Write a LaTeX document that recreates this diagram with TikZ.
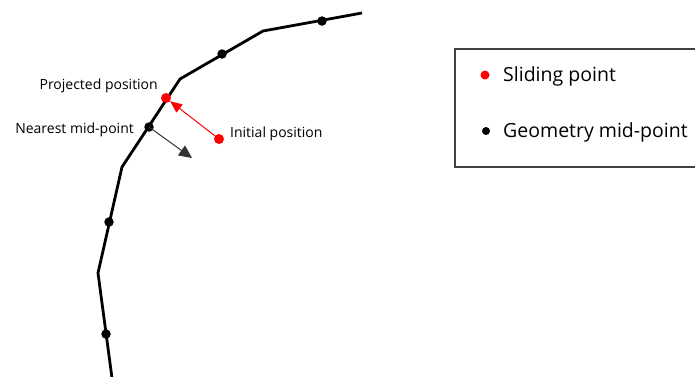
\documentclass[tikz,border=0pt]{standalone}
\usepackage{fontspec}
\setmainfont{Open Sans}
\usetikzlibrary{arrows.meta}
\begin{document}
\begin{tikzpicture}[x=1pt,y=-1pt,
  curve/.style={line width=2.8pt,line join=round},
  middot/.style={circle,fill=black,inner sep=0pt,minimum size=9.5pt},
  reddot/.style={circle,fill=red,inner sep=0pt,minimum size=10pt},
  lbl/.style={font=\fontsize{14}{16}\selectfont,inner sep=0pt},
  leg/.style={font=\fontsize{19.5}{22}\selectfont,inner sep=0pt,anchor=west}]
\useasboundingbox (0,0) rectangle (695,376);
% polyline geometry
\coordinate (v0) at (362,13);
\coordinate (v1) at (263,31);
\coordinate (v2) at (180,79);
\coordinate (v3) at (122,167);
\coordinate (v4) at (98,273);
\coordinate (v5) at (112,378);
\draw[curve] (v0) -- (v1) -- (v2) -- (v3) -- (v4) -- (v5);
% mid-points
\node[middot] (m1) at (322,21) {};
\node[middot] (m2) at (222,54) {};
\node[middot] (m3) at (149,127) {};
\node[middot] (m4) at (109,222) {};
\node[middot] (m5) at (106,334) {};
% sliding point and its projection
\node[reddot] (proj) at (166,98) {};
\node[reddot] (init) at (219,139) {};
\draw[red,line width=1pt,-{Triangle[length=12pt,width=10pt]}] (init) -- (proj);
\coordinate (nrm) at (192,158);
\draw[black!80,line width=1pt,-{Triangle[length=13pt,width=12pt]}] (m3.center) -- (nrm);
% labels
\node[lbl,anchor=east] (lp) at (158,86) {Projected position};
\node[lbl,anchor=east] (ln) at (134,130) {Nearest mid-point};
\node[lbl,anchor=west] (li) at (230,134) {Initial position};
% legend
\draw[black!75,line width=1.2pt] (697,49) -- (455,49) -- (455,167) -- (697,167);
\node[reddot,minimum size=9pt] (lr) at (485,75) {};
\node[middot,minimum size=8pt] (lb) at (486,131) {};
\node[leg] (tr) at (503,76) {Sliding point};
\node[leg] (tb) at (503,132) {Geometry mid-point};
\end{tikzpicture}
\end{document}
